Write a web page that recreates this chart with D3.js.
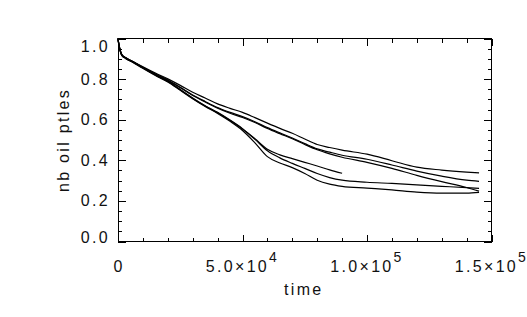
<!DOCTYPE html>
<html>
<head>
<meta charset="utf-8">
<script src="https://cdn.jsdelivr.net/npm/d3@7"></script>
<style>
  html, body { margin: 0; padding: 0; background: #fff; }
  svg { display: block; }
  text { font-family: "Liberation Sans", Arial, sans-serif; fill: #111; }
</style>
</head>
<body>
<svg id="chart" width="527" height="317"></svg>
<script>
// ---- data (time in units of 1e4) ----
const times = [0, 0.03, 0.08, 0.15, 0.3, 0.6, 1, 1.5, 2, 2.5, 3, 3.5, 4, 4.5, 5, 5.5, 6, 6.5, 7, 7.5, 8, 8.5, 9, 10, 11, 12, 13, 14, 14.5];
const upper1 = [1.0, 0.976, 0.947, 0.922, 0.907, 0.887, 0.861, 0.830, 0.801, 0.769, 0.735, 0.707, 0.678, 0.656, 0.636, 0.610, 0.583, 0.557, 0.533, 0.505, 0.478, 0.463, 0.450, 0.430, 0.398, 0.366, 0.352, 0.342, 0.338];
const upper2 = [1.0, 0.974, 0.945, 0.920, 0.905, 0.885, 0.858, 0.826, 0.796, 0.760, 0.722, 0.690, 0.660, 0.636, 0.615, 0.590, 0.561, 0.535, 0.510, 0.482, 0.456, 0.440, 0.425, 0.405, 0.377, 0.347, 0.322, 0.302, 0.296];
const upper3 = [1.0, 0.972, 0.943, 0.918, 0.903, 0.883, 0.856, 0.823, 0.793, 0.757, 0.719, 0.687, 0.657, 0.632, 0.611, 0.586, 0.557, 0.531, 0.506, 0.478, 0.452, 0.432, 0.415, 0.390, 0.360, 0.326, 0.295, 0.266, 0.248];
const short1 = [1.0, 0.975, 0.946, 0.921, 0.906, 0.886, 0.857, 0.822, 0.790, 0.749, 0.707, 0.669, 0.636, 0.598, 0.556, 0.506, 0.454, 0.427, 0.408, 0.390, 0.372, 0.353, 0.336, null, null, null, null, null, null];
const lower1 = [1.0, 0.973, 0.944, 0.919, 0.904, 0.884, 0.855, 0.820, 0.788, 0.747, 0.705, 0.667, 0.634, 0.596, 0.554, 0.503, 0.447, 0.412, 0.385, 0.360, 0.335, 0.315, 0.302, 0.292, 0.286, 0.279, 0.272, 0.265, 0.262];
const lower2 = [1.0, 0.971, 0.942, 0.917, 0.902, 0.882, 0.853, 0.818, 0.786, 0.745, 0.703, 0.665, 0.631, 0.592, 0.547, 0.486, 0.418, 0.387, 0.364, 0.335, 0.302, 0.283, 0.272, 0.263, 0.254, 0.243, 0.238, 0.238, 0.242];
const seriesList = [upper1, upper2, upper3, short1, lower1, lower2];

const xMajorTicks = [0, 5e4, 1e5, 1.5e5];
const xTickLabels = [["0", ""], ["5.0\u00d710", "4"], ["1.0\u00d710", "5"], ["1.5\u00d710", "5"]];
const yMajorTicks = [0, 0.2, 0.4, 0.6, 0.8, 1.0];
const yTickLabels = ["0.0", "0.2", "0.4", "0.6", "0.8", "1.0"];
const xTitle = "time";
const yTitle = "nb oil ptles";

// ---- layout ----
const L = 118, R = 491.5, T = 38.5, B = 241.5;
const svg = d3.select("#chart");
const x = d3.scaleLinear().domain([0, 1.5e5]).range([L, R]);
const y = d3.scaleLinear().domain([0, 1]).range([B, T]);

const xMinor = d3.range(0, 1.5e5 + 1, 1e4).filter(v => v % 5e4 !== 0);
const yMinor = d3.range(0, 1.0001, 0.05).filter(v => Math.abs(v / 0.2 - Math.round(v / 0.2)) > 1e-6);

const axG = svg.append("g").attr("shape-rendering", "crispEdges");
function tickAxis(axisFn, scale, ticks, size, tr) {
  axG.append("g").attr("transform", tr)
    .call(axisFn(scale).tickValues(ticks).tickSize(size).tickFormat(""))
    .call(g => g.select(".domain").remove())
    .call(g => g.selectAll("line").attr("stroke", "#000"));
}
// bottom/top (inward)
tickAxis(d3.axisTop, x, xMajorTicks, 7, `translate(0,${B})`);
tickAxis(d3.axisTop, x, xMinor, 4, `translate(0,${B})`);
tickAxis(d3.axisBottom, x, xMajorTicks, 7, `translate(0,${T})`);
tickAxis(d3.axisBottom, x, xMinor, 4, `translate(0,${T})`);
// left/right (inward)
tickAxis(d3.axisRight, y, yMajorTicks, 8, `translate(${L},0)`);
tickAxis(d3.axisRight, y, yMinor, 4, `translate(${L},0)`);
tickAxis(d3.axisLeft, y, yMajorTicks, 8, `translate(${R},0)`);
tickAxis(d3.axisLeft, y, yMinor, 4, `translate(${R},0)`);

// frame
axG.append("rect").attr("x", L).attr("y", T).attr("width", R - L).attr("height", B - T)
  .attr("fill", "none").attr("stroke", "#000").attr("stroke-width", 1);

// y tick labels
const fs = 16;
yMajorTicks.forEach((v, i) => {
  let cy = Math.max(T + 7.5, Math.min(B - 4, y(v)));
  svg.append("text").attr("x", L - 8).attr("y", cy)
    .attr("text-anchor", "end").attr("dominant-baseline", "central")
    .attr("font-size", fs).attr("letter-spacing", 2.3)
    .text(yTickLabels[i]);
});

// x tick labels
xMajorTicks.forEach((v, i) => {
  const [base, sup] = xTickLabels[i];
  const t = svg.append("text").attr("y", 272.3).attr("font-size", fs).attr("letter-spacing", 2.3);
  t.append("tspan").text(base);
  if (sup) t.append("tspan").attr("dy", -10.5).attr("font-size", 14).text(sup);
  const w = t.node().getComputedTextLength();
  t.attr("x", x(v) - (sup ? w / 2 : w / 2 - 1.2));
});

// titles
svg.append("text").attr("x", (L + R) / 2 - 1).attr("y", 295).attr("text-anchor", "middle")
  .attr("font-size", fs).attr("letter-spacing", 2.3).text(xTitle);
svg.append("text").attr("transform", `translate(68.5,${(T + B) / 2}) rotate(-90)`)
  .attr("text-anchor", "middle").attr("font-size", fs).attr("letter-spacing", 2.3).text(yTitle);

// curves
const line = d3.line()
  .defined(d => d[1] !== null)
  .curve(d3.curveMonotoneX)
  .x(d => x(d[0] * 1e4)).y(d => y(d[1]));
svg.append("g").selectAll("path").data(seriesList).join("path")
  .attr("d", s => line(times.map((t, i) => [t, s[i]])))
  .attr("fill", "none").attr("stroke", "#000").attr("stroke-width", 1.2)
  .attr("stroke-linejoin", "round");
</script>
</body>
</html>
